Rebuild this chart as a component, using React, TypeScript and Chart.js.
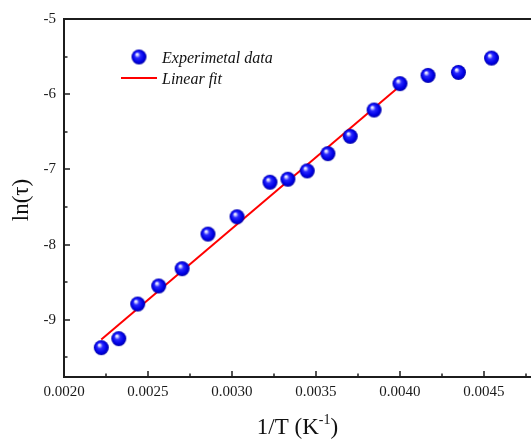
import { useEffect, useRef } from 'react';
import { Chart, registerables } from 'chart.js';
Chart.register(...registerables);

const invT = [0.002222, 0.002326, 0.002439, 0.002564, 0.002703, 0.002857, 0.00303, 0.003226, 0.003333, 0.003448, 0.003571, 0.003704, 0.003846, 0.004, 0.004167, 0.004348, 0.004545];
const lnTau = [-9.37, -9.25, -8.79, -8.55, -8.32, -7.86, -7.63, -7.17, -7.13, -7.02, -6.79, -6.56, -6.21, -5.86, -5.75, -5.71, -5.52];
const fitX = [0.002222, 0.004];
const fitY = [-9.26, -5.89];
const xTicks = [0.002, 0.0025, 0.003, 0.0035, 0.004, 0.0045];
const xMinor = [0.00225, 0.00275, 0.00325, 0.00375, 0.00425, 0.00475];
const yTicks = [-9, -8, -7, -6, -5];
const yMinor = [-9.5, -8.5, -7.5, -6.5, -5.5];
const seriesLabels = ['Experimetal data', 'Linear fit'];
const xTitle = ['1/T (K', '-1', ')'];
const yTitle = 'ln(τ)';

const FONT = "'Liberation Serif', 'Times New Roman', serif";
const AXIS = '#1c1c1c';

function makeSphere(r: number): HTMLCanvasElement {
  const s = r * 2 + 2;
  const c = document.createElement('canvas');
  c.width = s;
  c.height = s;
  const g = c.getContext('2d')!;
  const cx = s / 2, cy = s / 2;
  const grad = g.createRadialGradient(cx - r * 0.3, cy - r * 0.4, 0, cx, cy, r);
  grad.addColorStop(0, '#ffffff');
  grad.addColorStop(0.14, '#d8d8ff');
  grad.addColorStop(0.38, '#2a2aff');
  grad.addColorStop(0.75, '#0000e6');
  grad.addColorStop(1, '#0000a8');
  g.fillStyle = grad;
  g.beginPath();
  g.arc(cx, cy, r, 0, Math.PI * 2);
  g.fill();
  return c;
}

export default function App() {
  const ref = useRef<HTMLCanvasElement | null>(null);
  useEffect(() => {
    document.body.style.margin = '0';
    const sphere = makeSphere(7.5);
    const frame = {
      id: 'frame',
      beforeDatasetsDraw(chart: any) {
        const { ctx, chartArea: a, scales } = chart;
        const xs = scales.x, ys = scales.y;
        ctx.save();
        ctx.strokeStyle = AXIS;
        ctx.lineWidth = 2;
        ctx.beginPath();
        ctx.moveTo(a.left, a.top);
        ctx.lineTo(a.right, a.top);
        ctx.moveTo(a.left, a.top - 1);
        ctx.lineTo(a.left, a.bottom + 1);
        ctx.moveTo(a.left - 1, a.bottom);
        ctx.lineTo(a.right, a.bottom);
        ctx.stroke();
        ctx.lineWidth = 1.5;
        ctx.beginPath();
        xTicks.forEach((v) => {
          const px = Math.round(xs.getPixelForValue(v));
          ctx.moveTo(px, a.bottom);
          ctx.lineTo(px, a.bottom - 6);
        });
        xMinor.forEach((v) => {
          const px = Math.round(xs.getPixelForValue(v));
          if (px < a.right - 2) {
            ctx.moveTo(px, a.bottom);
            ctx.lineTo(px, a.bottom - 3.5);
          }
        });
        yTicks.forEach((v) => {
          const py = Math.round(ys.getPixelForValue(v));
          ctx.moveTo(a.left, py);
          ctx.lineTo(a.left + 6, py);
        });
        yMinor.forEach((v) => {
          const py = Math.round(ys.getPixelForValue(v));
          ctx.moveTo(a.left, py);
          ctx.lineTo(a.left + 3.5, py);
        });
        ctx.stroke();
        ctx.restore();
      },
      afterDraw(chart: any) {
        const { ctx, chartArea: a } = chart;
        ctx.save();
        ctx.fillStyle = '#111';
        // legend
        ctx.drawImage(sphere, 139 - sphere.width / 2, 57 - sphere.height / 2);
        ctx.strokeStyle = '#ff0000';
        ctx.lineWidth = 2;
        ctx.beginPath();
        ctx.moveTo(121, 78);
        ctx.lineTo(157, 78);
        ctx.stroke();
        ctx.font = `italic 16px ${FONT}`;
        ctx.textBaseline = 'alphabetic';
        ctx.textAlign = 'left';
        ctx.fillText(seriesLabels[0], 162, 63);
        ctx.fillText(seriesLabels[1], 162, 84);
        // x title
        const big = `23px ${FONT}`;
        const small = `14px ${FONT}`;
        ctx.font = big;
        const w1 = ctx.measureText(xTitle[0]).width;
        const w3 = ctx.measureText(xTitle[2]).width;
        ctx.font = small;
        const w2 = ctx.measureText(xTitle[1]).width;
        const total = w1 + w2 + w3;
        let x0 = (a.left + a.right) / 2 - total / 2;
        const base = 434;
        ctx.font = big;
        ctx.fillText(xTitle[0], x0, base);
        x0 += w1;
        ctx.font = small;
        ctx.fillText(xTitle[1], x0, base - 10);
        x0 += w2;
        ctx.font = big;
        ctx.fillText(xTitle[2], x0, base);
        // y title
        ctx.translate(22, (a.top + a.bottom) / 2 + 2);
        ctx.rotate(-Math.PI / 2);
        ctx.textAlign = 'center';
        ctx.textBaseline = 'middle';
        ctx.font = big;
        ctx.fillText(yTitle, 0, 0);
        ctx.restore();
      },
    };
    const chart = new Chart(ref.current!, {
      type: 'scatter',
      data: {
        datasets: [
          {
            label: seriesLabels[1],
            data: fitX.map((x, i) => ({ x, y: fitY[i] })),
            showLine: true,
            borderColor: '#ff0000',
            borderWidth: 2,
            pointRadius: 0,
            clip: false as any,
            order: 2,
          },
          {
            label: seriesLabels[0],
            data: invT.map((x, i) => ({ x, y: lnTau[i] })),
            pointStyle: sphere as any,
            pointRadius: 7.5,
            clip: false as any,
            order: 1,
          },
        ],
      },
      options: {
        animation: false,
        responsive: false,
        events: [],
        layout: { autoPadding: false, padding: { left: 0, top: 19, right: 1, bottom: 0 } },
        plugins: { legend: { display: false }, tooltip: { enabled: false } },
        scales: {
          x: {
            type: 'linear',
            min: 0.002,
            max: 0.00478,
            grid: { display: false, drawTicks: false },
            border: { display: false },
            afterBuildTicks: (s: any) => {
              s.ticks = xTicks.map((value) => ({ value }));
            },
            afterFit: (s: any) => {
              s.height = 64;
              s.paddingLeft = 0;
              s.paddingRight = 0;
            },
            ticks: {
              padding: 6,
              color: '#1a1a1a',
              font: { family: FONT, size: 15 },
              maxRotation: 0,
              callback: (v: any) => Number(v).toFixed(4),
            },
          },
          y: {
            type: 'linear',
            min: -9.76,
            max: -5,
            grid: { display: false, drawTicks: false },
            border: { display: false },
            afterBuildTicks: (s: any) => {
              s.ticks = yTicks.map((value) => ({ value }));
            },
            afterFit: (s: any) => {
              s.width = 64;
              s.paddingTop = 0;
              s.paddingBottom = 0;
            },
            ticks: {
              padding: 8,
              color: '#1a1a1a',
              font: { family: FONT, size: 15 },
              callback: (v: any) => String(v),
            },
          },
        },
      },
      plugins: [frame],
    });
    return () => chart.destroy();
  }, []);
  return (
    <div style={{ position: 'absolute', left: 0, top: 0, width: 532, height: 441, background: '#fff' }}>
      <canvas ref={ref} width={532} height={441} style={{ display: 'block' }} />
    </div>
  );
}
